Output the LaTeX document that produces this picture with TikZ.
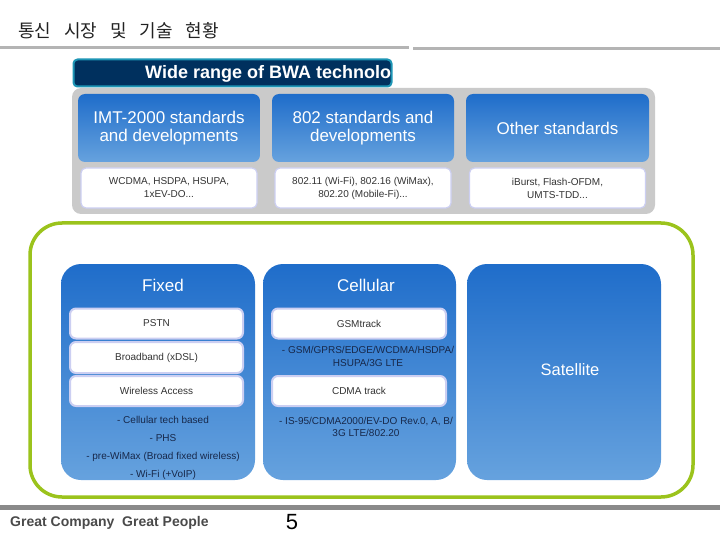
\documentclass[tikz,border=0pt]{standalone}
\usepackage{fontspec}
\setmainfont{Liberation Sans}
\newfontfamily\krfont{Noto Sans CJK KR}[WordSpace=3.2]
\definecolor{bluetop}{HTML}{1F6DCA}
\definecolor{bluebot}{HTML}{66A2DE}
\definecolor{navy}{HTML}{00305E}
\definecolor{bannerborder}{HTML}{1D95B5}
\definecolor{panelgray}{HTML}{CACACA}
\definecolor{lav}{HTML}{CCCFF2}
\definecolor{framegreen}{HTML}{9BC31C}
\definecolor{txtdark}{HTML}{333333}
\definecolor{txtnavy}{HTML}{17284A}
\definecolor{linegray}{HTML}{B4B4B4}
\definecolor{footgray}{HTML}{8A8A8A}
\definecolor{foottext}{HTML}{4A4A4A}
\definecolor{titletext}{HTML}{222222}
\tikzset{
  hdrbox/.style={rounded corners=7pt, top color=bluetop, bottom color=bluebot, draw=none,
    text=white, font=\fontsize{17}{17.5}\selectfont, align=center,
    minimum width=182pt, minimum height=68pt, inner sep=0pt},
  descbox/.style={rounded corners=5pt, fill=white, draw=lav, line width=1.2pt,
    font=\fontsize{10}{13}\selectfont, text=txtdark, align=center,
    minimum width=176pt, minimum height=40pt, inner sep=0pt},
  colbox/.style={rounded corners=20pt, top color=bluetop, bottom color=bluebot, draw=none,
    minimum width=194pt, minimum height=216pt, inner sep=0pt},
  coltitle/.style={text=white, font=\fontsize{17}{18}\selectfont, inner sep=0pt},
  itembox/.style={rounded corners=6pt, fill=white, draw=lav, line width=2pt,
    minimum width=173pt, minimum height=30pt, inner sep=0pt,
    font=\fontsize{10}{12}\selectfont, text=txtdark},
  notetext/.style={font=\fontsize{10}{13}\selectfont, text=txtnavy, align=center, inner sep=0pt}
}
\begin{document}
\begin{tikzpicture}[x=1pt,y=-1pt]
\useasboundingbox (0,0) rectangle (720,540);
% title
\node[anchor=west, inner sep=0pt, font=\krfont\fontsize{18}{18}\selectfont, text=titletext] (title) at (18,31) {통신 시장 및 기술 현황};
\draw[linegray, line width=3.5pt] (0,47.5) coordinate (tl1) -- (409,47.5) coordinate (tl2);
\draw[linegray, line width=3.5pt] (413,48.5) coordinate (tl3) -- (720,48.5) coordinate (tl4);
% gray panel
\node[fill=panelgray, rounded corners=9pt, minimum width=583pt, minimum height=126pt, inner sep=0pt] (panel) at (363.5,151) {};
% banner
\node[fill=navy, draw=bannerborder, line width=2pt, rounded corners=4pt, minimum width=318pt, minimum height=27pt, inner sep=0pt] (banner) at (232.5,73) {};
\begin{scope}
\clip (74,60) rectangle (391,86);
\node[anchor=west, inner sep=0pt, text=white, font=\bfseries\fontsize{18}{18}\selectfont] (bannertext) at (145,73.5) {Wide range of BWA technolo};
\end{scope}
% header boxes
\node[hdrbox] (h1) at (169,128) {IMT-2000 standards\\and developments};
\node[hdrbox] (h2) at (363,128) {802 standards and\\developments};
\node[hdrbox, minimum width=183pt] (h3) at (557.5,128) {Other standards};
\node[descbox] (d1) at (169,188) {WCDMA, HSDPA, HSUPA,\\1xEV-DO...};
\node[descbox] (d2) at (363,188) {802.11 (Wi-Fi), 802.16 (WiMax),\\802.20 (Mobile-Fi)...};
\node[descbox] (d3) at (557.5,188) {iBurst, Flash-OFDM,\\UMTS-TDD...};
% green frame
\node[draw=framegreen, line width=3.5pt, rounded corners=32pt, minimum width=663pt, minimum height=274pt, inner sep=0pt] (frame) at (361.5,360) {};
% columns
\node[colbox] (fixed) at (158,372) {};
\node[colbox, minimum width=193pt] (cell) at (359.5,372) {};
\node[colbox] (sat) at (564,372) {};
\node[coltitle] (fixedt) at (163,285) {Fixed};
\node[coltitle] (cellt) at (366,285) {Cellular};
\node[coltitle, font=\fontsize{16.5}{18}\selectfont] (satt) at (570,370) {Satellite};
% fixed items
\node[itembox] (pstn) at (156.5,323.5) {PSTN};
\node[itembox, minimum height=31pt] (bb) at (156.5,357.5) {Broadband (xDSL)};
\node[itembox] (wa) at (156.5,391) {Wireless Access};
\node[notetext, font=\fontsize{10}{18}\selectfont] (fnotes) at (163,448) {- Cellular tech based\\- PHS\\- pre-WiMax (Broad fixed wireless)\\- Wi-Fi (+VoIP)};
% cellular items
\node[itembox, minimum width=174pt] (gsm) at (359,323.5) {GSMtrack};
\node[notetext] (gsmnote) at (368,356.5) {- GSM/GPRS/EDGE/WCDMA/HSDPA/\\HSUPA/3G LTE};
\node[itembox, minimum width=174pt] (cdma) at (359,391) {CDMA track};
\node[notetext, font=\fontsize{10}{12.5}\selectfont] (cdmanote) at (366,427) {- IS-95/CDMA2000/EV-DO Rev.0, A, B/\\3G LTE/802.20};
% footer
\draw[footgray, line width=5pt] (0,507.5) coordinate (fl1) -- (720,507.5) coordinate (fl2);
\node[anchor=west, inner sep=0pt, text=foottext, font=\bfseries\fontsize{14}{14}\selectfont] (foot) at (10,523) {Great Company~~Great People};
\node[inner sep=0pt, text=black, font=\fontsize{22}{22}\selectfont] (pagenum) at (292,522) {5};
\end{tikzpicture}
\end{document}
